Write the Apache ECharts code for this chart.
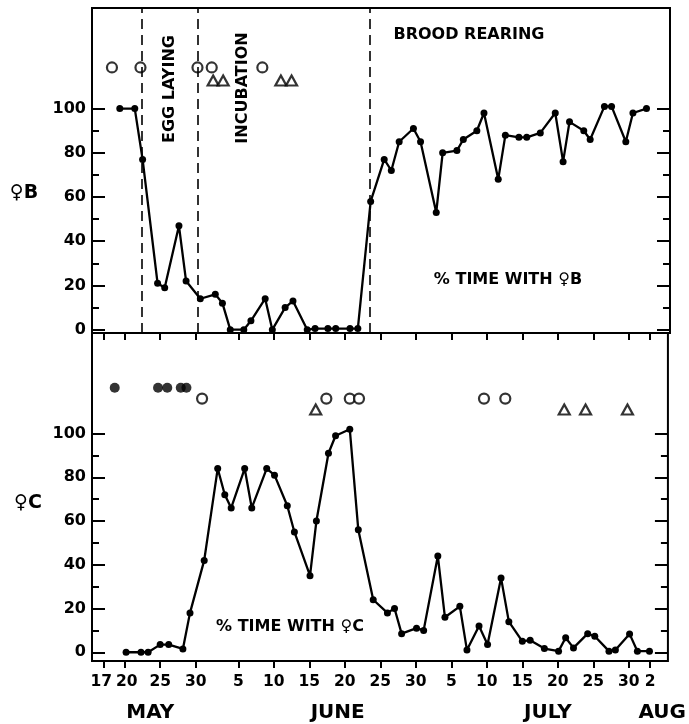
<!DOCTYPE html>
<html>
<head>
<meta charset="utf-8">
<script src="https://cdn.jsdelivr.net/npm/echarts@6/dist/echarts.min.js"></script>
<style>
html,body{margin:0;padding:0;background:#fff;}
#c{width:689px;height:724px;}
</style>
</head>
<body>
<div id="c"></div>
<script>
// x values are days counted from 17 May
const tickDays   = [0, 3, 8, 13, 19, 24, 29, 34, 39, 44, 49, 54, 59, 64, 69, 74, 77];
const tickLabels = ['17','20','25','30','5','10','15','20','25','30','5','10','15','20','25','30','2'];
const months     = ['MAY', 'JUNE', 'JULY', 'AUG'];
const monthDays  = [6.6, 33.0, 62.6, 78.7];

const yMajor = [0, 20, 40, 60, 80, 100];
const yMinor = [10, 30, 50, 70, 90];

// Female B
const bDays = [2.3,4.4,5.5,7.6,8.6,10.6,11.6,13.6,15.7,16.7,17.8,19.7,20.7,22.7,23.7,25.5,26.6,28.6,29.7,31.5,32.6,34.6,35.7,37.5,39.4,40.4,41.5,43.5,44.5,46.7,47.6,49.6,50.5,52.4,53.4,55.4,56.4,58.3,59.4,61.3,63.4,64.5,65.4,67.4,68.3,70.3,71.3,73.3,74.3,76.2];
const bVals = [100,100,77,21,19,47,22,14,16,12,0,0,4,14,0,10,13,0,0.5,0.5,0.5,0.5,0.5,58,77,72,85,91,85,53,80,81,86,90,98,68,88,87,87,89,98,76,94,90,86,101,101,85,98,100];

// Female C
const cDays = [3.2,5.3,6.3,8.0,9.2,11.2,12.2,14.2,16.1,17.1,18.0,19.9,20.9,23.0,24.1,25.9,26.9,29.1,30.0,31.7,32.7,34.7,35.9,38.0,40.0,41.0,42.0,44.1,45.1,47.1,48.1,50.2,51.2,52.9,54.1,56.0,57.1,59.0,60.1,62.1,64.1,65.1,66.2,68.2,69.2,71.2,72.1,74.1,75.2,76.9];
const cVals = [0,0,0,3.5,3.5,1.5,18,42,84,72,66,84,66,84,81,67,55,35,60,91,99,102,56,24,18,20,8.5,11,10,44,16,21,1,12,3.5,34,14,5,5.5,1.7,0.5,6.6,2,8.5,7.3,0.5,1,8.4,0.5,0.5];

// event symbols
const bOpenDays = [1.2, 5.2, 13.2, 15.2, 22.3];
const bOpenLevel = 118.6;
const bTriDays = [15.4, 16.8, 24.9, 26.4];
const bTriLevel = 112.7;
const cFilledDays = [1.6, 7.7, 9.0, 10.9, 11.7];
const cFilledLevel = 121;
const cOpenDays = [13.9, 31.4, 34.7, 36.0, 53.6, 56.6];
const cOpenLevel = 116;
const cTriDays = [29.9, 64.9, 67.9, 73.8];
const cTriLevel = 111;

// phase boundaries (dashed lines)
const phaseDays = [5.45, 13.3, 37.4];

const FONT = 'DejaVu Sans';
const pairs = (xs, ys) => xs.map((x, i) => [x, ys[i]]);
const level = (xs, y) => xs.map(x => [x, y]);
const labelOf = {};
tickDays.forEach((d, i) => labelOf[d] = tickLabels[i]);
// the first two labels nearly touch: put alternate labels on two label axes so neither is dropped
const labelSetA = tickDays.filter((d, i) => i % 2 === 1);
const labelSetB = tickDays.filter((d, i) => i % 2 === 0);

const X_MIN = -1.6, X_MAX = 79.5;
const noLine = {show: false, onZero: false};

function yAxes(gi, min, max) {
  const base = {
    gridIndex: gi, type: 'value', min: min, max: max,
    axisLine: noLine, splitLine: {show: false}
  };
  const tick = (len, vals) => ({show: true, inside: true, length: len, customValues: vals,
    lineStyle: {color: '#000', width: 2}});
  return [
    Object.assign({}, base, {
      position: 'left',
      axisLabel: {show: true, customValues: yMajor, margin: 6, color: '#000', hideOverlap: false,
        fontFamily: FONT, fontWeight: 'bold', fontSize: 16},
      axisTick: tick(13, yMajor)
    }),
    Object.assign({}, base, {position: 'left', axisLabel: {show: false}, axisTick: tick(7, yMinor)}),
    Object.assign({}, base, {position: 'right', axisLabel: {show: false}, axisTick: tick(13, yMajor)}),
    Object.assign({}, base, {position: 'right', axisLabel: {show: false}, axisTick: tick(7, yMinor)})
  ];
}

const dayFont = {fontFamily: FONT, fontWeight: 'bold', fontSize: 15.5, color: '#000'};
function dayLabelAxis(vals) {
  return {gridIndex: 1, type: 'value', min: X_MIN, max: X_MAX, position: 'bottom',
    axisLine: noLine, splitLine: {show: false}, axisTick: {show: false},
    axisLabel: Object.assign({show: true, customValues: vals, margin: 13, hideOverlap: false,
      showMinLabel: true, showMaxLabel: true,
      rich: {
        l: Object.assign({padding: [0, 4, 0, 0]}, dayFont),
        r: Object.assign({padding: [0, 0, 0, 4]}, dayFont)
      },
      formatter: v => {
        const s = labelOf[v];
        if (s === undefined) return '';
        if (v === tickDays[0]) return '{l|' + s + '}';
        if (v === tickDays[1]) return '{r|' + s + '}';
        return s;
      }}, dayFont)};
}

const chart = echarts.init(document.getElementById('c'), null, {renderer: 'canvas'});

const lineStyleCommon = {color: '#000', width: 2.3};
const openSym = {color: '#fff', borderColor: '#000', borderWidth: 2.2};

const option = {
  animation: false,
  backgroundColor: '#fff',
  grid: [
    {left: 92, right: 19, top: 8, height: 325, show: true, borderColor: '#000', borderWidth: 2, backgroundColor: 'transparent'},
    {left: 92, right: 19, top: 333, height: 328, show: true, borderColor: '#000', borderWidth: 2, backgroundColor: 'transparent'}
  ],
  xAxis: [
    {gridIndex: 0, type: 'value', min: X_MIN, max: X_MAX, position: 'bottom',
      axisLine: noLine, axisTick: {show: false}, axisLabel: {show: false}, splitLine: {show: false}},
    {gridIndex: 1, type: 'value', min: X_MIN, max: X_MAX, position: 'bottom',
      axisLine: noLine, splitLine: {show: false}, axisLabel: {show: false},
      axisTick: {show: true, inside: false, length: 7, customValues: tickDays, lineStyle: {color: '#000', width: 2}}},
    {gridIndex: 1, type: 'value', min: X_MIN, max: X_MAX, position: 'top',
      axisLine: noLine, splitLine: {show: false}, axisLabel: {show: false},
      axisTick: {show: true, inside: true, length: 7, customValues: tickDays, lineStyle: {color: '#000', width: 2}}},
    {gridIndex: 1, type: 'value', min: X_MIN, max: X_MAX, position: 'bottom', offset: 30,
      axisLine: noLine, splitLine: {show: false}, axisTick: {show: false},
      axisLabel: {show: true, customValues: monthDays, margin: 12, color: '#000', hideOverlap: false,
        fontFamily: FONT, fontWeight: 'bold', fontSize: 20,
        formatter: v => { const i = monthDays.indexOf(v); return i >= 0 ? months[i] : ''; }}},
    dayLabelAxis(labelSetA),
    dayLabelAxis(labelSetB)
  ],
  yAxis: [].concat(yAxes(0, -1.5, 145.5), yAxes(1, -4, 146)),
  series: [
    {type: 'line', xAxisIndex: 0, yAxisIndex: 0, data: pairs(bDays, bVals),
      symbol: 'circle', symbolSize: 7, itemStyle: {color: '#000'}, lineStyle: lineStyleCommon,
      markLine: {silent: true, symbol: 'none', label: {show: false},
        lineStyle: {color: '#000', width: 1.6, type: [10, 6]},
        data: phaseDays.map(d => ({xAxis: d}))}},
    {type: 'scatter', xAxisIndex: 0, yAxisIndex: 0, data: level(bOpenDays, bOpenLevel),
      symbol: 'circle', symbolSize: 10, itemStyle: openSym},
    {type: 'scatter', xAxisIndex: 0, yAxisIndex: 0, data: level(bTriDays, bTriLevel),
      symbol: 'triangle', symbolSize: [11, 10], itemStyle: openSym},
    {type: 'line', xAxisIndex: 1, yAxisIndex: 4, data: pairs(cDays, cVals),
      symbol: 'circle', symbolSize: 7, itemStyle: {color: '#000'}, lineStyle: lineStyleCommon},
    {type: 'scatter', xAxisIndex: 1, yAxisIndex: 4, data: level(cFilledDays, cFilledLevel),
      symbol: 'circle', symbolSize: 10, itemStyle: {color: '#000'}},
    {type: 'scatter', xAxisIndex: 1, yAxisIndex: 4, data: level(cOpenDays, cOpenLevel),
      symbol: 'circle', symbolSize: 10, itemStyle: openSym},
    {type: 'scatter', xAxisIndex: 1, yAxisIndex: 4, data: level(cTriDays, cTriLevel),
      symbol: 'triangle', symbolSize: [11, 10], itemStyle: openSym}
  ],
  graphic: [
    {type: 'text', x: 24, y: 193, style: {text: '♀B', font: 'bold 19px "DejaVu Sans"', fill: '#000', align: 'center', verticalAlign: 'middle'}},
    {type: 'text', x: 28, y: 503, style: {text: '♀C', font: 'bold 19px "DejaVu Sans"', fill: '#000', align: 'center', verticalAlign: 'middle'}},
    {type: 'text', x: 170, y: 89, rotation: Math.PI / 2, style: {text: 'EGG LAYING', font: 'bold 16px "DejaVu Sans"', fill: '#000', align: 'center', verticalAlign: 'middle'}},
    {type: 'text', x: 243, y: 88, rotation: Math.PI / 2, style: {text: 'INCUBATION', font: 'bold 16px "DejaVu Sans"', fill: '#000', align: 'center', verticalAlign: 'middle'}},
    {type: 'text', x: 469, y: 35, style: {text: 'BROOD REARING', font: 'bold 16px "DejaVu Sans"', fill: '#000', align: 'center', verticalAlign: 'middle'}},
    {type: 'text', x: 508, y: 280, style: {text: '% TIME WITH ♀B', font: 'bold 16px "DejaVu Sans"', fill: '#000', align: 'center', verticalAlign: 'middle'}},
    {type: 'text', x: 290, y: 627, style: {text: '% TIME WITH ♀C', font: 'bold 16px "DejaVu Sans"', fill: '#000', align: 'center', verticalAlign: 'middle'}}
  ]
};
chart.setOption(option);
</script>
</body>
</html>
